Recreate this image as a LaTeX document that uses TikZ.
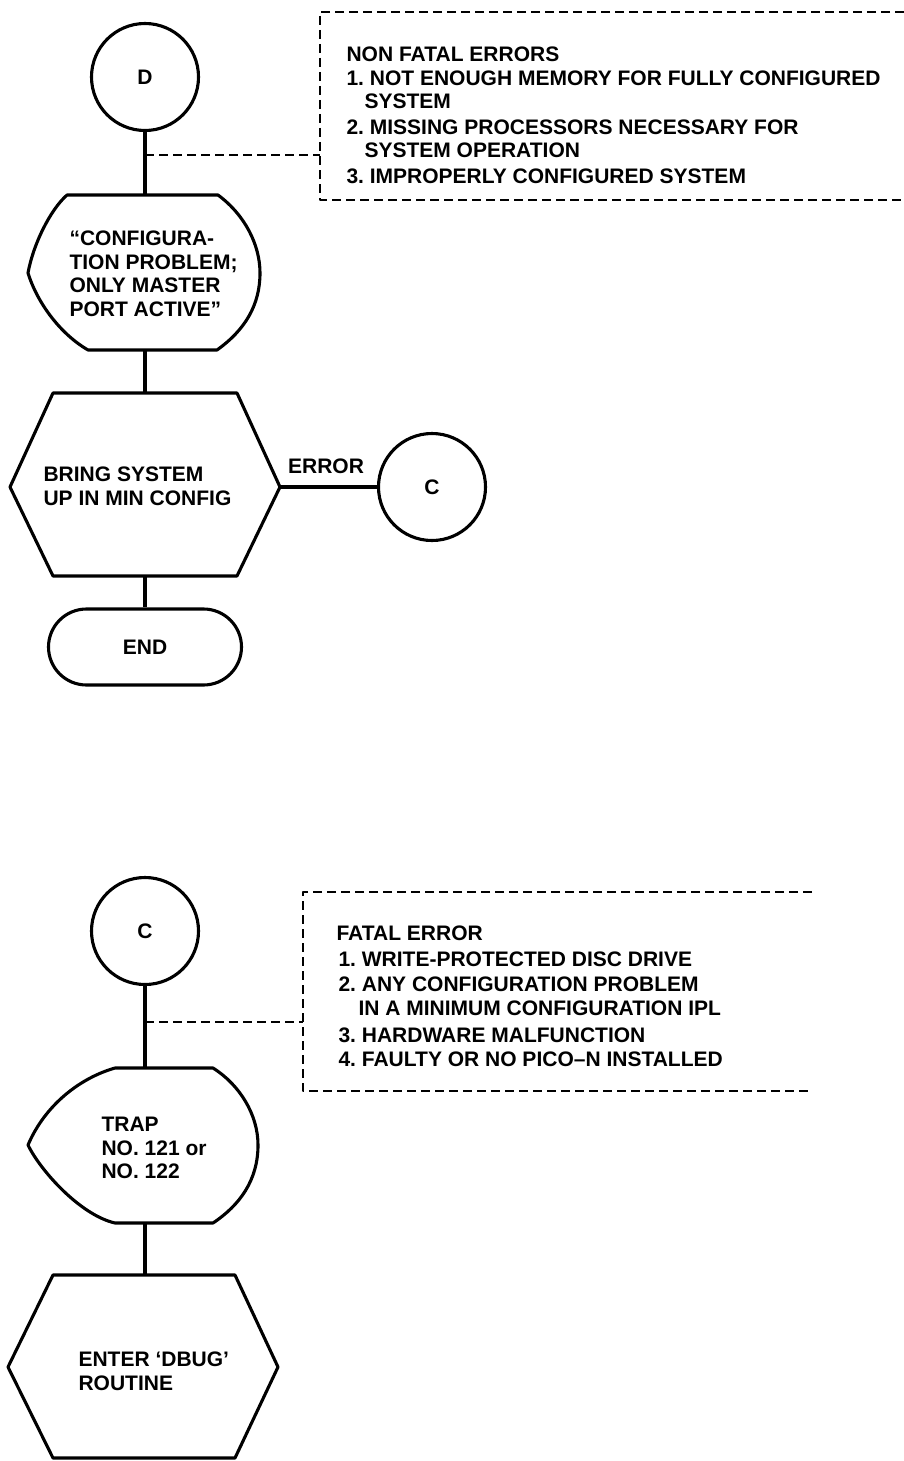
\documentclass[tikz,border=0pt]{standalone}
\usepackage{fontspec}
\setmainfont{Liberation Sans}
\usetikzlibrary{shapes.misc}
\frenchspacing
\begin{document}
\begin{tikzpicture}[x=1pt,y=-1pt,
  line width=3.1pt, line join=round,
  every node/.style={font=\bfseries\fontsize{21}{23.5}\selectfont, inner sep=0pt},
  conn/.style={line width=3.1pt},
  note/.style={line width=2.6pt, dash pattern=on 9pt off 5pt},
  txt/.style={anchor=north west, align=left},
  conncircle/.style={circle, draw, line width=3.1pt, minimum size=107pt},
]
\useasboundingbox[fill=white] (0,0) rectangle (904,1461);

% ---------------- upper flow ----------------
\node[conncircle] (D) at (145,77) {D};

% display shape 1
\draw (67,195) -- (218,195)
  .. controls (245,215) and (260,245) .. (260,273)
  .. controls (260,305) and (245,330) .. (217,350)
  -- (88,350)
  .. controls (62,335) and (38,305) .. (28,273)
  .. controls (33,245) and (50,210) .. (67,195) -- cycle;
\coordinate (d1t) at (145,195);
\coordinate (d1b) at (145,350);
\node[txt] (t1) at (68,229.5) {“CONFIGURA-\\TION PROBLEM;\\ONLY MASTER\\PORT ACTIVE”};

% hexagon 1
\draw (53,393) -- (237,393) -- (280,487) -- (237,576) -- (53,576) -- (10,487) -- cycle;
\coordinate (h1t) at (145,393);
\coordinate (h1b) at (145,576);
\coordinate (h1r) at (280,487);
\node[txt] (t2) at (42,465.5) {BRING SYSTEM\\UP IN MIN CONFIG};

\node[conncircle] (C1) at (432,487) {C};
\node (err) at (326,466) {ERROR};

\node[rounded rectangle, draw, line width=3.1pt, minimum width=193pt, minimum height=76pt] (END) at (145,647) {END};

\draw[conn] (D.south) -- (d1t);
\draw[conn] (d1b) -- (h1t);
\draw[conn] (h1r) -- (h1r -| C1.west);
\draw[conn] (h1b) -- (END.north);

% non fatal note
\draw[note] (904,12) -- (320,12) -- (320,200) -- (904,200);
\coordinate (j1) at (145,155);
\coordinate (nf) at (320,155);
\draw[note] (j1) -- (nf);
\node[txt] (nft) at (345,45.5) {NON FATAL ERRORS\\
1. NOT ENOUGH MEMORY FOR FULLY CONFIGURED\\
\hspace*{18pt}SYSTEM\\[2pt]
2. MISSING PROCESSORS NECESSARY FOR\\
\hspace*{18pt}SYSTEM OPERATION\\[2pt]
3. IMPROPERLY CONFIGURED SYSTEM};

% ---------------- lower flow ----------------
\node[conncircle] (C2) at (145,931) {C};

% display shape 2
\draw (115,1068) -- (213,1068)
  .. controls (240,1085) and (258,1115) .. (258,1145)
  .. controls (258,1180) and (240,1205) .. (213,1223)
  -- (115,1223)
  .. controls (80,1215) and (40,1170) .. (28,1145)
  .. controls (45,1105) and (80,1078) .. (115,1068) -- cycle;
\coordinate (d2t) at (145,1068);
\coordinate (d2b) at (145,1223);
\node[txt] (t3) at (100,1115.5) {TRAP\\NO. 121 or\\NO. 122};

% hexagon 2
\draw (53,1275) -- (235,1275) -- (278,1367) -- (235,1458) -- (53,1458) -- (8,1367) -- cycle;
\coordinate (h2t) at (145,1275);
\node[txt] (t4) at (77,1350.5) {ENTER ‘DBUG’\\ROUTINE};

\draw[conn] (C2.south) -- (d2t);
\draw[conn] (d2b) -- (h2t);

% fatal note
\draw[note] (812,892) -- (303,892) -- (303,1091) -- (812,1091);
\coordinate (j2) at (145,1022);
\coordinate (fe) at (303,1022);
\draw[note] (j2) -- (fe);
\node[txt] (fet) at (335,924.5) {FATAL ERROR\\[2pt]
\hspace*{2pt}1. WRITE-PROTECTED DISC DRIVE\\[2pt]
\hspace*{2pt}2. ANY CONFIGURATION PROBLEM\\
\hspace*{22pt}IN A MINIMUM CONFIGURATION IPL\\[4pt]
\hspace*{2pt}3. HARDWARE MALFUNCTION\\
\hspace*{2pt}4. FAULTY OR NO PICO–N INSTALLED};
\end{tikzpicture}
\end{document}
